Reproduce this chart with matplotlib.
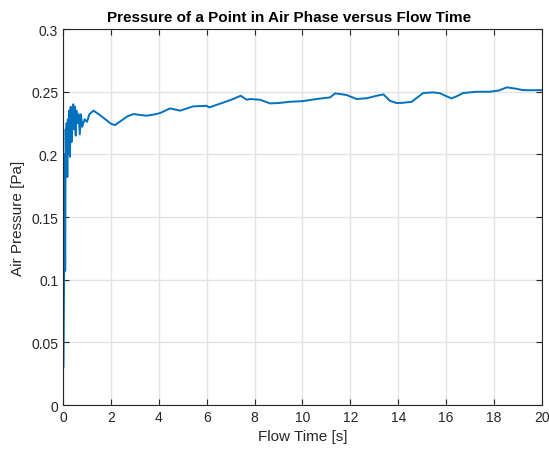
import matplotlib
matplotlib.use("Agg")
import matplotlib.pyplot as plt
import numpy as np

plt.rcParams['font.family'] = ['Liberation Sans', 'DejaVu Sans']

# values
flow_time = [0.0, 0.02, 0.05, 0.07, 0.09, 0.11, 0.13, 0.15, 0.18, 0.2, 0.23, 0.26,
             0.29, 0.32, 0.36, 0.4, 0.43, 0.46, 0.5, 0.53, 0.56, 0.6, 0.65, 0.7,
             0.75, 0.8, 0.9, 1.0, 1.1, 1.27, 1.5, 1.8, 2.0, 2.17, 2.4, 2.7, 2.94,
             3.2, 3.49, 3.8, 4.05, 4.47, 4.89, 5.43, 6.0, 6.1, 6.64, 7.1, 7.42,
             7.67, 7.81, 8.23, 8.64, 9.0, 9.48, 10.0, 10.59, 11.15, 11.36, 11.57,
             11.84, 12.26, 12.68, 13.1, 13.38, 13.65, 13.93, 14.2, 14.56, 14.8,
             15.04, 15.46, 15.74, 16.0, 16.22, 16.45, 16.71, 17.27, 17.83, 18.2,
             18.53, 18.9, 19.2, 19.6, 20.0]
air_pressure = [0.03, 0.03, 0.12, 0.2, 0.107, 0.22, 0.19, 0.225, 0.182, 0.228, 0.2,
                0.235, 0.198, 0.238, 0.21, 0.236, 0.24, 0.22, 0.238, 0.215, 0.235,
                0.225, 0.232, 0.216, 0.232, 0.222, 0.228, 0.226, 0.232, 0.2349,
                0.232, 0.2275, 0.2245, 0.2234, 0.2265, 0.2305, 0.2322, 0.2315,
                0.2309, 0.2318, 0.233, 0.2367, 0.2349, 0.2383, 0.2388, 0.2375,
                0.241, 0.2442, 0.2468, 0.2436, 0.2442, 0.2436, 0.2407, 0.241,
                0.242, 0.2425, 0.2442, 0.2455, 0.2487, 0.2482, 0.2474, 0.2442,
                0.2448, 0.2468, 0.2479, 0.2428, 0.241, 0.2412, 0.242, 0.2455,
                0.249, 0.2495, 0.2488, 0.2465, 0.2447, 0.2465, 0.249, 0.25, 0.25,
                0.251, 0.2535, 0.2525, 0.2513, 0.2512, 0.2513]

fig = plt.figure(figsize=(5.49, 4.56), dpi=100)
ax = fig.add_axes([0.1148, 0.1096, 0.8724, 0.8244])

ax.plot(flow_time, air_pressure, color='#0072BD', linewidth=1.4)

ax.set_xlim(0, 20)
ax.set_ylim(0, 0.3)
ax.set_xticks(np.arange(0, 21, 2))
ax.set_yticks(np.arange(0, 0.31, 0.05))
ax.set_yticklabels(['0', '0.05', '0.1', '0.15', '0.2', '0.25', '0.3'])
ax.grid(True, color='#e3e3e3', linewidth=1.0)
ax.set_axisbelow(True)
ax.tick_params(direction='in', length=4, labelsize=10, colors='#262626',
               top=True, right=True)
for s in ax.spines.values():
    s.set_color('#262626')
    s.set_linewidth(0.8)

ax.set_xlabel('Flow Time [s]', fontsize=11, color='#262626')
ax.set_ylabel('Air Pressure [Pa]', fontsize=11, color='#262626')
ax.set_title('Pressure of a Point in Air Phase versus Flow Time',
             fontsize=11, fontweight='bold', pad=6, x=0.472)

fig.savefig('out.png', dpi=100)
